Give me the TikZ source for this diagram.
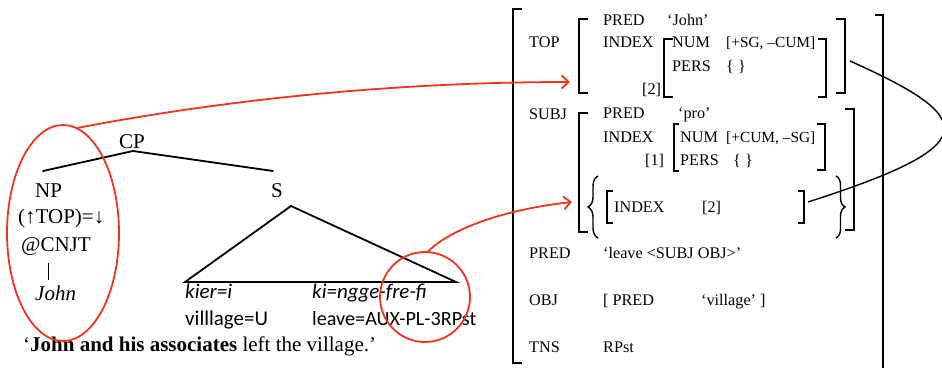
\documentclass[tikz,border=0pt]{standalone}
\usepackage{fontspec}
\setmainfont{Liberation Serif}
\newfontfamily\glossfont{Carlito}
\usetikzlibrary{arrows.meta,shapes.geometric,decorations.pathreplacing}
\definecolor{linkred}{RGB}{240,52,30}
% f-structure bracket: x, top y, bottom y, tick length (negative for a right bracket)
\newcommand\fsbracket[4]{\draw[brack] ({#1+#4},#2) -- (#1,#2) -- (#1,#3) -- ({#1+#4},#3);}
\begin{document}
\begin{tikzpicture}[x=1pt,y=-1pt,
  txt/.style={inner sep=0pt, anchor=base west},
  treetxt/.style={txt, font=\fontsize{21}{25}\selectfont},
  glosstxt/.style={txt, font=\glossfont\fontsize{21}{25}\selectfont},
  avm/.style={txt, font=\fontsize{16.2}{19}\selectfont},
  avmnarrow/.style={txt, font=\fontsize{15.4}{19}\selectfont},
  branch/.style={line width=1.8pt, line cap=round},
  brack/.style={line width=1.4pt},
  linkline/.style={draw=linkred, line width=1.8pt},
  linkarrow/.style={linkline, -{Straight Barb[length=7pt,width=13pt,line width=1.8pt]}},
  shareline/.style={line width=1.4pt}
]
\useasboundingbox (0,0) rectangle (942,367);
\begin{scope}
\clip (0,0) rectangle (942,367);

% ---------- c-structure ----------
\node[treetxt, anchor=base] (cp) at (132,148) {CP};
\node[treetxt] (np) at (35,197) {NP};
\node[treetxt, anchor=base] (s) at (277,197) {S};
\node[treetxt] (ann) at (18,223) {(↑TOP)=↓};
\node[treetxt] (cnjt) at (21,251) {@CNJT};
\node[treetxt, font=\itshape\fontsize{21}{25}\selectfont] (john) at (35,300) {John};

\coordinate (cpfoot) at (133,151);
\coordinate (npTop) at (43,171);
\coordinate (sTop) at (273,171);
\draw[branch] (npTop) -- (cpfoot) -- (sTop);

\coordinate (barTop) at (48,263);
\coordinate (barBot) at (48,280);
\draw[line width=0.7pt] (barTop) -- (barBot);

\coordinate (triApex) at (291,206);
\coordinate (triL) at (185,282);
\coordinate (triR) at (456,282);
\draw[branch, line cap=butt] (triApex) -- (triL) -- (triR) -- cycle;

\node[glosstxt, font=\glossfont\itshape\fontsize{21}{25}\selectfont] (w1) at (185,298) {kier=i};
\node[glosstxt, font=\glossfont\itshape\fontsize{21}{25}\selectfont] (w2) at (312,298) {ki=ngge-fre-fi};
\node[glosstxt] (g1) at (185,325) {villlage=U};
\node[glosstxt, font=\glossfont\fontsize{20.2}{24}\selectfont] (g2) at (312,325) {leave=AUX-PL-3RPst};

\node[txt, font=\fontsize{21}{25}\selectfont] (transl) at (23,351)
  {‘\textbf{John and his associates} left the village.’};

% ---------- f-structure ----------
\fsbracket{513}{9}{363}{9}
\fsbracket{883}{15}{380}{-8}

\node[avm] (lTop) at (529,47) {TOP};
\node[avm] (lSubj) at (529,119) {SUBJ};
\node[avm] (lPred) at (529,258) {PRED};
\node[avm] (lObj) at (529,305) {OBJ};
\node[avm] (lTns) at (529,352) {TNS};

% TOP value
\fsbracket{579}{19}{93}{9}
\fsbracket{845}{19}{93}{-9}
\node[avm] (tPred) at (603,25) {PRED};
\node[avm] (tJohn) at (667,25) {‘John’};
\node[avm] (tIndex) at (603,47) {INDEX};
\fsbracket{664}{39}{97}{9}
\fsbracket{826}{39}{97}{-8}
\node[avm] (tNum) at (672,47) {NUM};
\node[avmnarrow] (tNumV) at (726,47) {[+SG, –CUM]};
\node[avm] (tPers) at (672,71) {PERS};
\node[avm] (tPersV) at (726,71) {\{ \}};
\node[avm] (tTag) at (642,94) {[2]};

% SUBJ value
\fsbracket{579}{113}{232}{9}
\fsbracket{854}{109}{230}{-9}
\node[avm] (sPred) at (603,118) {PRED};
\node[avm] (sPro) at (678,118) {‘pro’};
\node[avm] (sIndex) at (603,142) {INDEX};
\fsbracket{674}{124}{171}{5}
\fsbracket{825}{124}{170}{-8}
\node[avm] (sNum) at (680,142) {NUM};
\node[avmnarrow] (sNumV) at (726,142) {[+CUM, –SG]};
\node[avm] (sTag) at (645,165) {[1]};
\node[avm] (sPers) at (680,165) {PERS};
\node[avm] (sPersV) at (733,165) {\{ \}};

% set of conjuncts
\draw[brack, decorate, decoration={brace, amplitude=10pt}] (598,238) -- (598,176);
\draw[brack, decorate, decoration={brace, amplitude=9pt}] (836,176) -- (836,238);
\fsbracket{607}{191}{223}{6}
\fsbracket{804}{191}{223}{-6}
\node[avm] (cIndex) at (614,212) {INDEX};
\node[avm] (cTag) at (702,212) {[2]};

% remaining attributes
\node[avm] (vPred) at (603,258) {‘leave <SUBJ OBJ>’};
\node[avm] (vObj) at (603,305) {[ PRED};
\node[avm] (vObjV) at (701,305) {‘village’ ]};
\node[avm] (vTns) at (603,352) {RPst};

% structure sharing between TOP and the conjunct
\coordinate (topR) at (850,61);
\coordinate (setR) at (808,202);
\draw[shareline] (topR) .. controls (982,120) and (982,146) .. (setR);

% ---------- mapping links ----------
\node[draw=linkred, line width=1.8pt, ellipse, minimum width=112pt, minimum height=216pt, inner sep=0pt] (npRing) at (63,233) {};
\node[draw=linkred, line width=1.8pt, circle, minimum size=90pt, inner sep=0pt] (vRing) at (425,297) {};
\coordinate (topIn) at (570,82);
\coordinate (setIn) at (572,202);
\draw[linkarrow] (npRing.82) .. controls (250,95) and (420,82) .. (topIn);
\draw[linkarrow] (vRing.86) .. controls (450,230) and (500,210) .. (setIn);
\end{scope}
\end{tikzpicture}
\end{document}
